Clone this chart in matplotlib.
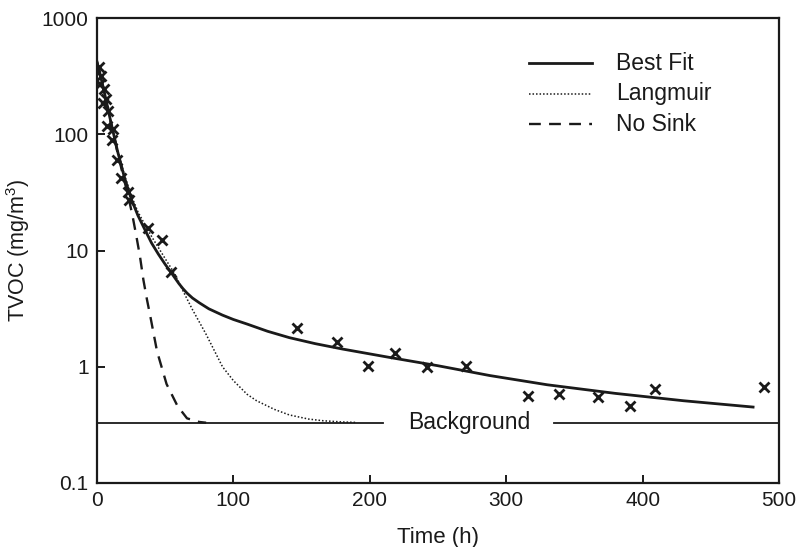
import matplotlib
matplotlib.use("Agg")
import matplotlib.pyplot as plt
from matplotlib.ticker import FixedLocator, NullLocator

plt.rcParams['font.family'] = ['Liberation Sans', 'DejaVu Sans']
plt.rcParams['mathtext.default'] = 'regular'

# measured TVOC data (time h, mg/m3)
data_t = [1.5, 3, 2.5, 5, 6.5, 4.5, 8, 7, 11.5, 11, 14.5, 17.5, 22.5, 23.5,
          37.5, 48, 54, 146.5, 176, 198.5, 218.5, 242, 270.5, 316, 338.5,
          367, 391, 409, 489]
data_v = [380, 320, 270, 245, 200, 185, 160, 118, 112, 90, 60, 42, 32, 27,
          15.5, 12.3, 6.5, 2.15, 1.62, 1.02, 1.32, 0.99, 1.01, 0.56, 0.58,
          0.55, 0.46, 0.64, 0.67]

# Best fit curve
fit_t = [0, 2, 5, 10, 15, 20, 25, 30, 35, 40, 45, 50, 55, 60, 63, 66, 70, 75,
         82, 92, 100, 110, 125, 141, 160, 180, 215, 250, 288, 330, 380, 430, 481]
fit_v = [420, 340, 240, 130, 72, 43, 28, 20, 15.2, 11.6, 9.3, 7.6, 6.3, 5.2,
         4.7, 4.3, 3.9, 3.55, 3.15, 2.78, 2.55, 2.33, 2.02, 1.78, 1.58, 1.42,
         1.2, 1.02, 0.84, 0.7, 0.59, 0.51, 0.45]

# Langmuir curve
lang_t = [0, 2, 5, 10, 15, 20, 25, 30, 35, 40, 45, 50, 57, 63, 70, 80, 92,
          100, 110, 117, 130, 141, 155, 166, 180, 190]
lang_v = [420, 340, 240, 132, 74, 45, 30, 21.5, 16.8, 13.2, 10.6, 8.5, 6.3,
          4.5, 3.1, 1.9, 1.0, 0.76, 0.58, 0.51, 0.43, 0.385, 0.355, 0.343,
          0.335, 0.332]

# No sink curve
nos_t = [0, 2, 5, 10, 15, 20, 23, 26, 29, 31.5, 34, 36.6, 39, 44, 51, 59, 66,
         75, 80]
nos_v = [420, 340, 235, 128, 70, 40, 29, 20, 13, 8.9, 5.6, 3.8, 2.75, 1.36,
         0.71, 0.46, 0.36, 0.335, 0.33]

background = 0.33
bg_left = [0, 210]
bg_right = [335, 500]
bg_label_t = 273

x_ticks = [0, 100, 200, 300, 400, 500]
y_ticks = [0.1, 1, 10, 100, 1000]
y_labels = ['0.1', '1', '10', '100', '1000']

fig = plt.figure(figsize=(8.01, 5.47), dpi=100)
ax = fig.add_axes([97/801, 1-483/547, 682/801, 465/547])
ax.set_yscale('log')
ax.set_xlim(0, 500)
ax.set_ylim(0.1, 1000)

ax.plot(fit_t, fit_v, color='#1a1a1a', lw=2.0, solid_joinstyle='round')
ax.plot(lang_t, lang_v, color='#1a1a1a', lw=1.1, linestyle=(0, (1, 1.3)))
ax.plot(nos_t, nos_v, color='#1a1a1a', lw=1.7, linestyle=(0, (5, 3.5)))
ax.plot(data_t, data_v, linestyle='none', marker='x', ms=6.5, mew=2.0,
        color='#1a1a1a')

ax.plot(bg_left, [background]*2, color='#1a1a1a', lw=1.3)
ax.plot(bg_right, [background]*2, color='#1a1a1a', lw=1.3)
ax.text(bg_label_t, background, 'Background', ha='center', va='center',
        fontsize=16.5, color='#1a1a1a')

# legend drawn manually
leg_items = [('Best Fit', dict(lw=2.0, linestyle='-')),
             ('Langmuir', dict(lw=1.1, linestyle=(0, (1, 1.3)))),
             ('No Sink', dict(lw=1.7, linestyle=(0, (5, 3.5))))]
x0 = (529-97)/682
x1 = (592-97)/682
xt = (616-97)/682
for i, (lab, st) in enumerate(leg_items):
    yy = 1 - (63 + 30.5*i - 18)/465
    ax.plot([x0, x1], [yy, yy], transform=ax.transAxes, color='#1a1a1a', **st)
    ax.text(xt, yy, lab, transform=ax.transAxes, ha='left', va='center',
            fontsize=16.5, color='#1a1a1a')

ax.xaxis.set_major_locator(FixedLocator(x_ticks))
ax.set_xticklabels([str(v) for v in x_ticks])
ax.yaxis.set_major_locator(FixedLocator(y_ticks))
ax.yaxis.set_minor_locator(NullLocator())
ax.set_yticklabels(y_labels)
ax.tick_params(direction='in', length=6, width=1.4, labelsize=15,
               colors='#1a1a1a', pad=6)
for s in ax.spines.values():
    s.set_linewidth(1.6)
    s.set_color('#1a1a1a')

ax.set_xlabel('Time (h)', fontsize=16, color='#1a1a1a', labelpad=12)
ax.set_ylabel('TVOC (mg/m$^{3}$)', fontsize=15.5, color='#1a1a1a')
ax.yaxis.set_label_coords(-0.096, 0.5)

fig.savefig('out.png', dpi=100)
